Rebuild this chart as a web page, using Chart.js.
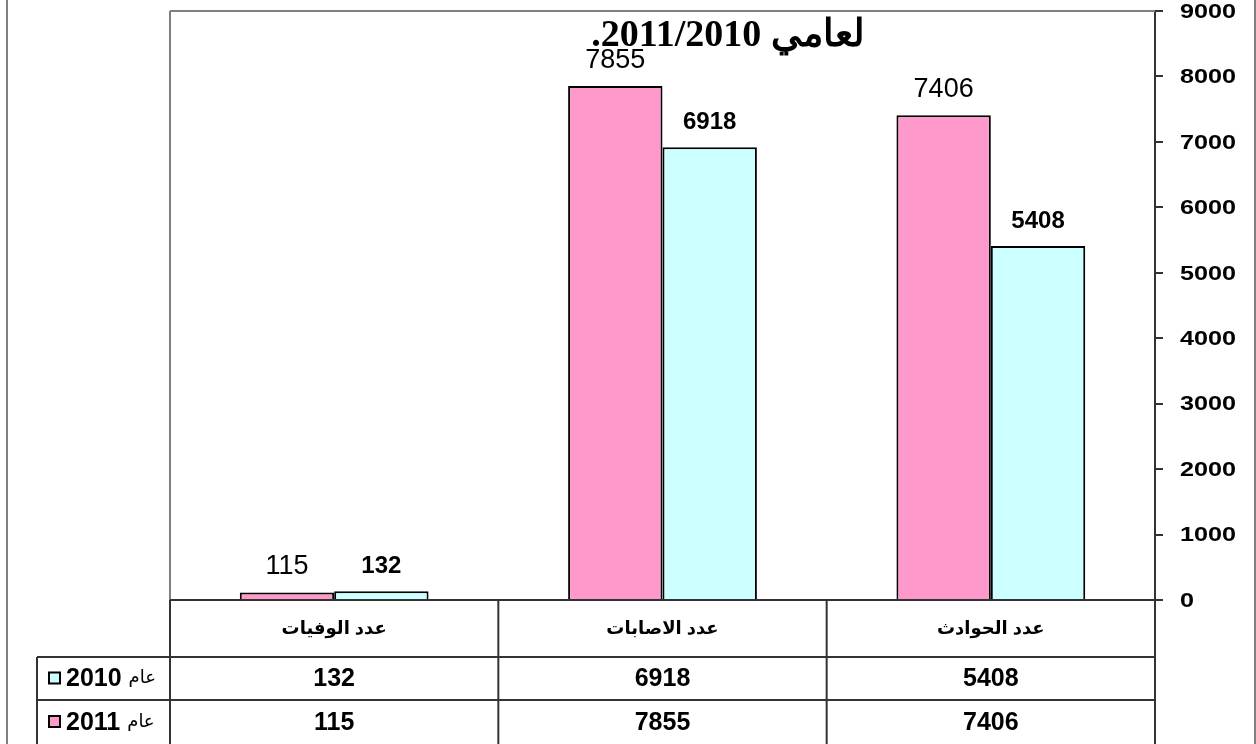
<!DOCTYPE html>
<html>
<head>
<meta charset="utf-8">
<script src="https://cdn.jsdelivr.net/npm/chart.js@4"></script>
<style>
html,body{margin:0;padding:0;background:#fff;}
#c{display:block;}
</style>
</head>
<body>
<canvas id="c" width="1256" height="744"></canvas>
<script>
const categories = ['عدد الوفيات', 'عدد الاصابات', 'عدد الحوادث'];
const values2011 = [115, 7855, 7406];
const values2010 = [132, 6918, 5408];
const seriesNames = ['عام 2011', 'عام 2010'];
const yearLabels = ['2011', '2010'];
const titleText = '.2011/2010 لعامي';
const yTicks = [0, 1000, 2000, 3000, 4000, 5000, 6000, 7000, 8000, 9000];

const PINK = '#FF99CC';
const CYAN = '#CCFFFF';

const tablePlugin = {
  id: 'tablePlugin',
  afterDatasetsDraw(chart) {
    const ctx = chart.ctx;
    const fonts = ['27px "Liberation Sans", Arial, sans-serif', 'bold 24px "Liberation Sans", Arial, sans-serif'];
    chart.data.datasets.forEach((ds, di) => {
      const meta = chart.getDatasetMeta(di);
      meta.data.forEach((el, i) => {
        ctx.save();
        ctx.font = fonts[di];
        ctx.fillStyle = '#000';
        ctx.textAlign = 'center';
        ctx.textBaseline = 'alphabetic';
        ctx.fillText(String(ds.data[i]), el.x, el.y - 18);
        ctx.restore();
      });
    });
  },
  afterDraw(chart) {
    const ctx = chart.ctx;
    const ca = chart.chartArea;
    const L = ca.left, R = ca.right, T = ca.top, B = ca.bottom;
    const H = chart.height;
    const yScale = chart.scales.y;
    ctx.save();
    // page border lines
    ctx.strokeStyle = '#808080';
    ctx.lineWidth = 2;
    ctx.beginPath();
    ctx.moveTo(7, 0); ctx.lineTo(7, H);
    ctx.moveTo(1255, 0); ctx.lineTo(1255, H);
    ctx.stroke();
    // plot area border (top & left)
    ctx.beginPath();
    ctx.moveTo(L, T); ctx.lineTo(R, T);
    ctx.moveTo(L, T); ctx.lineTo(L, B);
    ctx.stroke();

    // y tick labels
    ctx.fillStyle = '#000';
    ctx.textAlign = 'left';
    ctx.textBaseline = 'middle';
    ctx.font = 'bold 21px "Liberation Sans", Arial, sans-serif';
    yTicks.forEach(v => {
      const y = yScale.getPixelForValue(v);
      ctx.save();
      ctx.translate(R + 25, y + 1);
      ctx.scale(1.2, 1);
      ctx.fillText(String(v), 0, 0);
      ctx.restore();
    });

    // table
    const row1 = B + 57, row2 = B + 100;
    const legendLeft = 37;
    const colW = (R - L) / categories.length;
    ctx.strokeStyle = '#333';
    ctx.lineWidth = 2;
    ctx.beginPath();
    ctx.moveTo(L, B); ctx.lineTo(R + 8, B);
    ctx.moveTo(legendLeft, row1); ctx.lineTo(R, row1);
    ctx.moveTo(legendLeft, row2); ctx.lineTo(R, row2);
    ctx.moveTo(legendLeft, row1); ctx.lineTo(legendLeft, H);
    for (let i = 0; i <= categories.length; i++) {
      const x = L + colW * i;
      ctx.moveTo(x, B); ctx.lineTo(x, H);
    }
    ctx.stroke();

    ctx.fillStyle = '#000';
    ctx.textAlign = 'center';
    ctx.textBaseline = 'middle';
    ctx.font = 'bold 18px Arial, "Liberation Sans", "DejaVu Sans", sans-serif';
    categories.forEach((c, i) => {
      ctx.fillText(c, L + colW * (i + 0.5), B + 29);
    });
    const rows = [
      {y: (row1 + row2) / 2, vals: values2010, color: CYAN, year: yearLabels[1]},
      {y: (row2 + H) / 2, vals: values2011, color: PINK, year: yearLabels[0]}
    ];
    rows.forEach(r => {
      ctx.font = 'bold 25px "Liberation Sans", Arial, sans-serif';
      ctx.textAlign = 'center';
      r.vals.forEach((v, i) => {
        ctx.fillText(String(v), L + colW * (i + 0.5), r.y + 1);
      });
      ctx.fillStyle = r.color;
      ctx.fillRect(49, r.y - 6, 11, 11);
      ctx.strokeStyle = '#000';
      ctx.lineWidth = 2;
      ctx.strokeRect(49, r.y - 6, 11, 11);
      ctx.fillStyle = '#000';
      ctx.textAlign = 'left';
      ctx.font = 'bold 25px "Liberation Sans", Arial, sans-serif';
      ctx.fillText(r.year, 66, r.y + 1);
      const w = ctx.measureText(r.year).width;
      ctx.font = '18px "Liberation Sans", Arial, "DejaVu Sans", sans-serif';
      ctx.fillText('عام', 66 + w + 7, r.y);
    });

    // title
    ctx.direction = 'ltr';
    ctx.textAlign = 'center';
    ctx.textBaseline = 'alphabetic';
    ctx.font = 'bold 38px "Liberation Serif", "Times New Roman", serif';
    ctx.fillText(titleText, 728, 46);
    ctx.restore();
  }
};

new Chart(document.getElementById('c'), {
  type: 'bar',
  data: {
    labels: categories,
    datasets: [
      {label: seriesNames[0], data: values2011, backgroundColor: PINK, borderColor: '#000', borderWidth: 2, borderSkipped: 'bottom'},
      {label: seriesNames[1], data: values2010, backgroundColor: CYAN, borderColor: '#000', borderWidth: 2, borderSkipped: 'bottom'}
    ]
  },
  options: {
    responsive: false,
    animation: false,
    devicePixelRatio: 1,
    layout: {padding: {left: 170, top: 11, bottom: 144, right: 0}},
    plugins: {legend: {display: false}, tooltip: {enabled: false}, title: {display: false}},
    datasets: {bar: {categoryPercentage: 0.575, barPercentage: 1.0}},
    scales: {
      x: {display: false},
      y: {
        position: 'right',
        min: 0, max: 9000,
        afterFit(scale) { scale.width = 101; },
        afterBuildTicks(scale) { scale.ticks = yTicks.map(v => ({value: v})); },
        ticks: {display: false},
        grid: {drawOnChartArea: false, drawTicks: true, tickLength: 8, color: '#333', lineWidth: 2},
        border: {display: true, color: '#333', width: 2}
      }
    }
  },
  plugins: [tablePlugin]
});
</script>
</body>
</html>
